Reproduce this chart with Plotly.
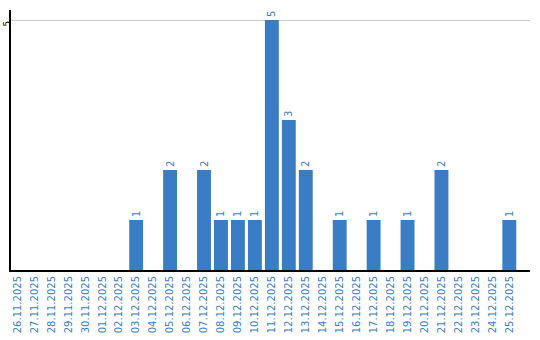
import plotly.graph_objects as go

dates = ["26.11.2025","27.11.2025","28.11.2025","29.11.2025","30.11.2025","01.12.2025",
         "02.12.2025","03.12.2025","04.12.2025","05.12.2025","06.12.2025","07.12.2025",
         "08.12.2025","09.12.2025","10.12.2025","11.12.2025","12.12.2025","13.12.2025",
         "14.12.2025","15.12.2025","16.12.2025","17.12.2025","18.12.2025","19.12.2025",
         "20.12.2025","21.12.2025","22.12.2025","23.12.2025","24.12.2025","25.12.2025"]
counts = [0,0,0,0,0,0,0,1,0,2,0,2,1,1,1,5,3,2,0,1,0,1,0,1,0,2,0,0,0,1]

labels = [str(v) if v > 0 else "" for v in counts]
blue = "#3b7dc4"
FONT = "DejaVu Sans, Verdana, sans-serif"

fig = go.Figure(go.Bar(
    x=dates, y=counts, marker_color=blue, marker_line_width=0,
    text=labels, textposition="outside", textangle=-90,
    textfont=dict(family=FONT, size=10, color=blue),
    cliponaxis=False, hoverinfo="skip",
))

fig.update_layout(
    width=540, height=340,
    margin=dict(l=11, r=10, t=10, b=70, autoexpand=False),
    paper_bgcolor="white", plot_bgcolor="white",
    bargap=0.18, showlegend=False,
    font=dict(family=FONT, size=10),
    uniformtext=dict(minsize=10, mode="show"),
)
fig.update_xaxes(
    type="category", range=[-0.38, 30.22], automargin=False,
    tickangle=-90, tickfont=dict(family=FONT, size=10, color=blue),
    showline=True, linecolor="black", linewidth=2, showgrid=False, ticks="",
)
fig.update_yaxes(
    range=[0, 5.2], tickvals=[5], ticktext=["5"], tickangle=-90, automargin=False,
    ticklabelstandoff=-5, ticklabelshift=5,
    tickfont=dict(family=FONT, size=9, color="black"),
    showline=True, linecolor="black", linewidth=2,
    showgrid=True, gridcolor="#cccccc", gridwidth=1, zeroline=False, ticks="",
)

fig.write_html("out.html")
